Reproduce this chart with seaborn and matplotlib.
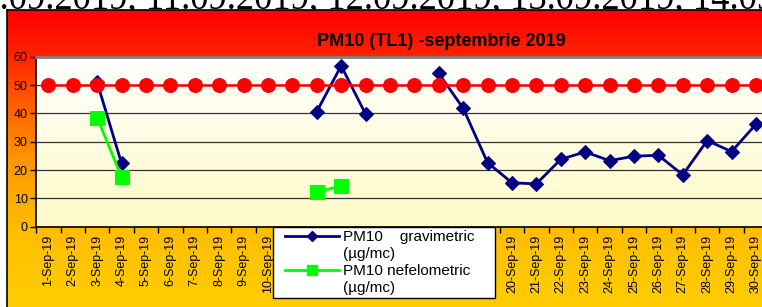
import numpy as np
import pandas as pd
import matplotlib.pyplot as plt
import seaborn as sns
from matplotlib.lines import Line2D
from matplotlib.legend_handler import HandlerLine2D

plt.rcParams['font.family'] = ['Liberation Sans', 'DejaVu Sans']

# data
days = list(range(1, 31))
day_labels = [f"{d}-Sep-19" for d in days]

gravimetric = [None, None, 51.0, 22.4, None, None, None, None, None, None,
               None, 40.6, 56.8, 39.8, None, None, 54.1, 41.8, 22.6, 15.5,
               15.1, 23.8, 26.4, 23.3, 24.9, 25.2, 18.3, 30.4, 26.5, 36.2]
nefelometric = [None, None, 38.5, 17.6, None, None, None, None, None, None,
                None, 12.2, 14.4, None, None, None, None, None, None, None,
                None, None, None, None, None, None, None, None, None, None]
limit = [50, 50, 50, 50, 50, 50, 50, 50, 50, 50,
         50, 50, 50, 50, 50, 50, 50, 50, 50, 50,
         50, 50, 50, 50, 50, 50, 50, 50, 50, 50]

header_text = "10.09.2019, 11.09.2019, 12.09.2019, 13.09.2019, 14.09.2019"
title = "PM10 (TL1) -septembrie 2019"
grav_label = "PM10    gravimetric    "
nef_label = "PM10 nefelometric"
unit_label = "(\u00b5g/mc)"

W, H = 762, 307


def runs(values):
    # one unit per run of consecutive readings, so gaps stay open
    df = pd.DataFrame({"day": days, "value": pd.array(values, dtype="Float64")})
    df["seg"] = df["value"].isna().cumsum()
    df = df.dropna()
    df["value"] = df["value"].astype(float)
    return df


fig = plt.figure(figsize=(W / 100, H / 100), dpi=100)

# text line cut off at the top of the page
fig.text(-37 / W, 1 - 8.5 / H, header_text, family='Liberation Serif',
         fontsize=26.4, va='baseline', ha='left', zorder=-1)

# chart box with red -> yellow gradient
bg = fig.add_axes([7 / W, 0, 1 - 7 / W, 297 / H], zorder=0)
ys = np.array([0, 40, 90, 150, 220, 297])
gs = np.array([0, 30, 90, 150, 190, 205])
g = np.interp(np.arange(297), ys, gs) / 255
grad = np.stack([np.ones_like(g), g, np.zeros_like(g)], axis=1)[:, None, :]
bg.imshow(grad, aspect='auto', extent=[0, 1, 0, 1])
bg.set_xlim(0, 1)
bg.set_ylim(0, 1)
bg.set_xticks([])
bg.set_yticks([])
for s in ['right', 'bottom']:
    bg.spines[s].set_visible(False)
for s in ['top', 'left']:
    bg.spines[s].set_color('black')
    bg.spines[s].set_linewidth(1.2)

fig.text(441 / W, 1 - 41 / H, title, fontsize=13, fontweight='bold',
         ha='center', va='center')

# plot area
ax = fig.add_axes([36.1 / W, 80.3 / H, 732.1 / W, 170 / H], zorder=1)
pa = np.linspace(0, 1, 200)
area = np.stack([np.ones_like(pa), 1 - 0.02 * pa, 1 - 0.22 * pa], axis=1)[:, None, :]
ax.imshow(area, aspect='auto', extent=[0, 1, 0, 1], transform=ax.transAxes, zorder=0)

sns.lineplot(data=runs(gravimetric), x="day", y="value", units="seg", estimator=None,
             color='#000080', marker='D', markersize=7, markeredgecolor='#000080',
             linewidth=2, legend=False, ax=ax, zorder=3)
sns.lineplot(data=runs(nefelometric), x="day", y="value", units="seg", estimator=None,
             color='#00FF00', marker='s', markersize=10, markeredgecolor='#00FF00',
             linewidth=2, legend=False, ax=ax, zorder=3)
sns.lineplot(x=days, y=limit, color='#FF0000', marker='o', markersize=10,
             markeredgecolor='#FF0000', linewidth=1.8, legend=False, ax=ax, zorder=4)

ax.set_xlim(0.5, 30.5)
ax.set_ylim(0, 60)
ax.set_xlabel('')
ax.set_ylabel('')
ax.set_yticks(range(0, 61, 10))
ax.yaxis.grid(True, color='#333333', linewidth=0.9)
ax.set_xticks(days)
ax.set_xticklabels(day_labels, rotation=90)
ax.set_xticks(np.arange(0.5, 31, 1), minor=True)
ax.tick_params(axis='x', which='major', length=0, pad=6, labelsize=9)
ax.tick_params(axis='x', which='minor', length=4, width=1, direction='out')
ax.tick_params(axis='y', length=4, width=1, pad=2, labelsize=9)
ax.spines['right'].set_visible(False)
ax.spines['top'].set_color('#808080')
ax.spines['top'].set_linewidth(2)
for s in ['left', 'bottom']:
    ax.spines[s].set_color('black')
    ax.spines[s].set_linewidth(1.2)

blank = Line2D([], [], linestyle='none')
grav_handle = Line2D([], [], color='#000080', lw=2, marker='D', markersize=5)
nef_handle = Line2D([], [], color='#00FF00', lw=2, marker='s', markersize=6.5)
handles = [grav_handle, blank, nef_handle, blank]
labels = [grav_label, unit_label, nef_label, unit_label]
leg = fig.legend(handles, labels, loc='upper left',
                 bbox_to_anchor=(273 / W, 1 - 227 / H), bbox_transform=fig.transFigure,
                 fontsize=11, frameon=True, fancybox=False, framealpha=1,
                 edgecolor='black', handlelength=4.1, handletextpad=0.3,
                 labelspacing=0.2, borderpad=0.2, borderaxespad=0,
                 handler_map={grav_handle: HandlerLine2D(xpad=0.6),
                              nef_handle: HandlerLine2D(xpad=0.6)})
leg.get_frame().set_linewidth(1)
leg.set_zorder(5)

fig.savefig('out.png', dpi=100)
